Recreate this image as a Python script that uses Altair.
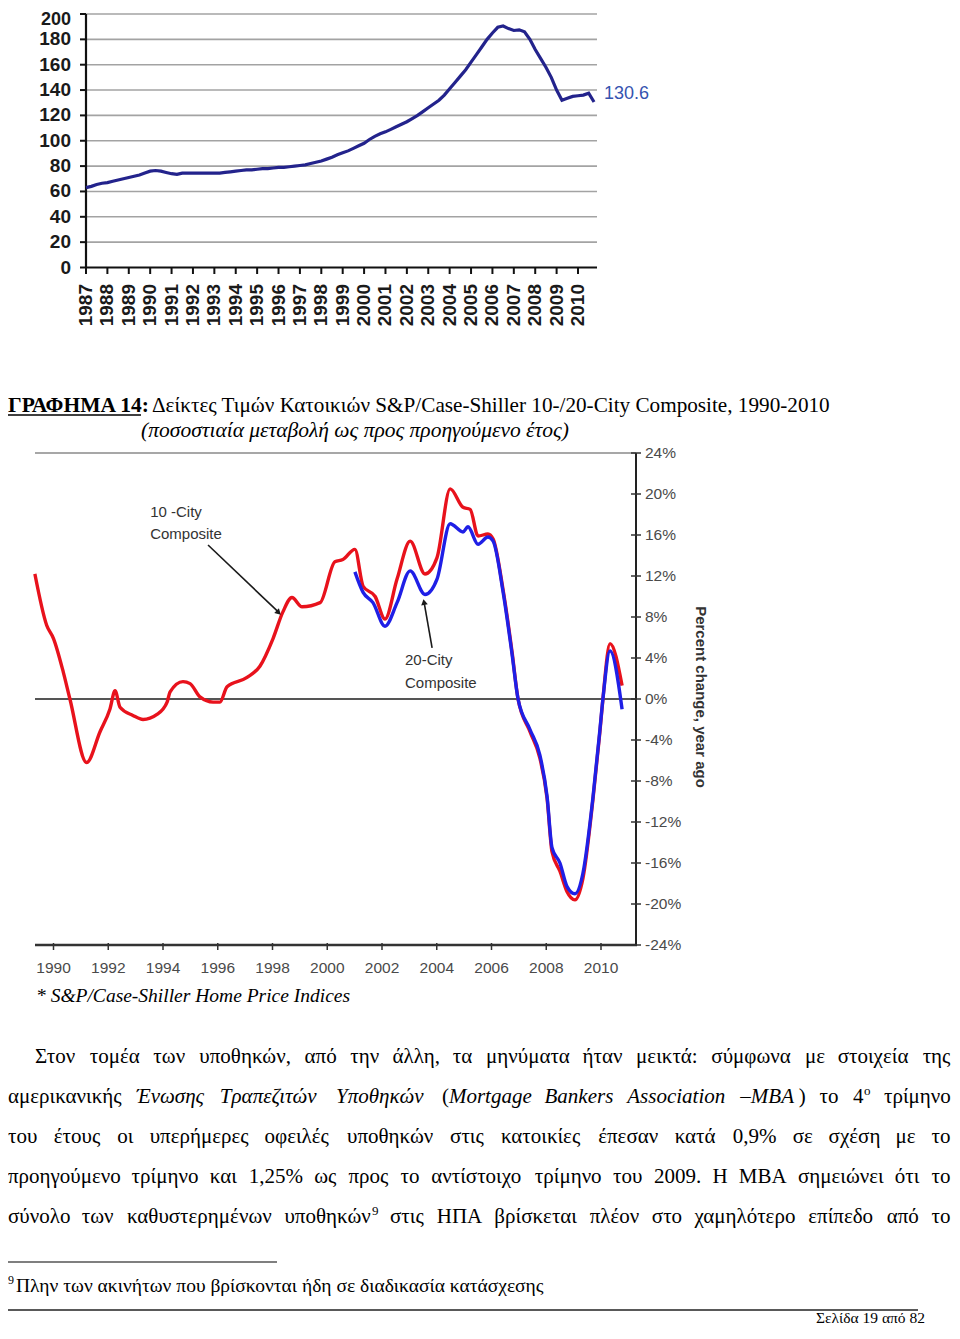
import unicodedata
import altair as alt
import pandas as pd

# ---------------- Chart 1: index level, quarterly 1987Q1-2010Q4 ----------------
idx_years = list(range(1987, 2011))
idx_values = [
    63, 64, 65.5, 66.5,
    67, 68, 69, 70,
    71, 72, 73, 74.5,
    76, 76.5, 76, 75,
    74, 73.5, 74.5, 74.5,
    74.5, 74.5, 74.5, 74.5,
    74.5, 74.5, 75, 75.5,
    76, 76.5, 77, 77,
    77.5, 78, 78, 78.5,
    79, 79, 79.5, 80,
    80.5, 81, 82, 83,
    84, 85.5, 87, 89,
    90.5, 92, 94, 96,
    98, 101, 103.5, 105.5,
    107, 109, 111, 113,
    115, 117.5, 120, 123,
    126, 129, 132, 136,
    141, 146, 151, 156,
    162, 168, 174, 180,
    185, 189.5, 190.5, 188.5,
    187, 187.5, 186, 180,
    172, 165, 158, 150,
    140, 132, 133.5, 135,
    135.5, 136, 137.5, 130.6,
]
idx_ticks = [0, 20, 40, 60, 80, 100, 120, 140, 160, 180, 200]
idx_last_label = "130.6"

# ---------------- Chart 2: % change, year ago ----------------
red_t = [1989.32, 1989.75, 1990.0, 1990.36, 1990.6, 1991.21, 1991.7, 1992.06, 1992.25, 1992.43,
         1992.9, 1993.27, 1993.78, 1994.15, 1994.26, 1994.73, 1994.99, 1995.35, 1995.83, 1996.08,
         1996.34, 1997.07, 1997.54, 1998.02, 1998.38, 1998.71, 1999.08, 1999.74, 2000.28, 2000.57,
         2001.01, 2001.31, 2001.75, 2002.11, 2002.55, 2003.03, 2003.57, 2004.01, 2004.49, 2004.96,
         2005.22, 2005.51, 2005.87, 2006.06, 2006.42, 2006.75, 2006.97, 2007.41, 2007.77, 2008.03,
         2008.21, 2008.5, 2008.76, 2009.05, 2009.34, 2009.71, 2009.96, 2010.07, 2010.33, 2010.77]
red_v = [12.2, 7.2, 5.9, 2.6, 0, -6.2, -3.2, -1.0, 0.8, -0.8,
         -1.6, -2.0, -1.5, -0.3, 0.7, 1.7, 1.5, 0.2, -0.3, -0.3,
         1.2, 2.1, 3.2, 5.9, 8.5, 9.9, 9.0, 9.4, 13.4, 13.6,
         14.6, 11.0, 10.0, 7.8, 11.7, 15.4, 12.2, 13.8, 20.5, 18.7,
         18.5, 15.9, 16.1, 15.6, 10.7, 4.6, 0, -3.2, -5.8, -9.7,
         -14.9, -16.8, -18.8, -19.6, -17.5, -9.7, -3.2, 0, 5.4, 1.3]
blue_t = [2001.01, 2001.31, 2001.67, 2002.11, 2002.55, 2003.03, 2003.57, 2004.01, 2004.49, 2004.96,
          2005.14, 2005.51, 2005.87, 2006.06, 2006.42, 2006.75, 2006.97, 2007.41, 2007.77, 2008.03,
          2008.21, 2008.5, 2008.76, 2009.05, 2009.34, 2009.71, 2009.96, 2010.07, 2010.33, 2010.77]
blue_v = [12.4, 10.4, 9.4, 7.1, 9.4, 12.5, 10.2, 11.7, 17.1, 16.3,
          16.8, 15.1, 15.8, 15.4, 10.5, 4.4, 0, -3.0, -5.5, -9.5,
          -14.5, -16.0, -18.3, -19.0, -17.0, -9.5, -3.0, 0, 4.7, -1.0]
pct_ticks = [24, 20, 16, 12, 8, 4, 0, -4, -8, -12, -16, -20, -24]
year_ticks2 = [1990, 1992, 1994, 1996, 1998, 2000, 2002, 2004, 2006, 2008, 2010]

SERIF = "Liberation Serif"
SANS = "Liberation Sans"
# whole page canvas (kept so that body margin + canvas fit the 960x1339 window)
W, H = 944, 1319

# ---------------- Chart 1 layers ----------------
X1 = alt.Scale(domain=[1987, 2010], range=[78, 570])
Y1 = alt.Scale(domain=[0, 200], range=[259.5, 6])

q_t = [y + q / 4 for y in idx_years for q in range(4)]
df_idx = pd.DataFrame({"t": q_t, "v": idx_values})
df_yt = pd.DataFrame({"v": idx_ticks})
df_years1 = pd.DataFrame({"yr": idx_years, "lab": [str(y) for y in idx_years]})
df_last = pd.DataFrame({"t": [q_t[-1]], "v": [idx_values[-1]], "lab": [idx_last_label]})
one = pd.DataFrame({"a": [0]})

c1_grid = alt.Chart(df_yt[df_yt.v > 0]).mark_rule(color="#a3a3a3", strokeWidth=1.6).encode(
    y=alt.Y("v:Q", scale=Y1, axis=None), x=alt.value(78), x2=alt.value(589))
c1_yaxis = alt.Chart(one).mark_rule(color="#111", strokeWidth=2.2).encode(
    x=alt.value(78), y=alt.value(6), y2=alt.value(260))
c1_xaxis = alt.Chart(one).mark_rule(color="#111", strokeWidth=2.2).encode(
    x=alt.value(77), x2=alt.value(589), y=alt.value(259.5))
c1_yticks = alt.Chart(df_yt).mark_rule(color="#111", strokeWidth=2).encode(
    y=alt.Y("v:Q", scale=Y1, axis=None), x=alt.value(72), x2=alt.value(78))
ylab_style = dict(align="right", baseline="middle", font=SANS, fontWeight="bold", color="#1a1a1a")
c1_ylabels = alt.Chart(df_yt[df_yt.v < 200]).mark_text(fontSize=19, **ylab_style).encode(
    y=alt.Y("v:Q", scale=Y1, axis=None), x=alt.value(63), text="v:Q")
c1_ylabel_top = alt.Chart(df_yt[df_yt.v == 200]).mark_text(fontSize=18, dy=5.5, **ylab_style).encode(
    y=alt.Y("v:Q", scale=Y1, axis=None), x=alt.value(63), text="v:Q")
c1_xticks = alt.Chart(df_years1).mark_rule(color="#111", strokeWidth=2).encode(
    x=alt.X("yr:Q", scale=X1, axis=None), y=alt.value(259.5), y2=alt.value(266))
c1_xlabels = alt.Chart(df_years1).mark_text(align="right", baseline="middle", angle=270, font=SANS,
                                            fontWeight="bold", fontSize=19, color="#1a1a1a").encode(
    x=alt.X("yr:Q", scale=X1, axis=None), y=alt.value(276), text="lab:N")
c1_line = alt.Chart(df_idx).mark_line(color="#23238c", strokeWidth=3.2).encode(
    x=alt.X("t:Q", scale=X1, axis=None), y=alt.Y("v:Q", scale=Y1, axis=None))
c1_last = alt.Chart(df_last).mark_text(align="left", baseline="middle", dx=10, dy=-8, font=SANS,
                                       fontSize=18, color="#3553b0").encode(
    x=alt.X("t:Q", scale=X1, axis=None), y=alt.Y("v:Q", scale=Y1, axis=None), text="lab:N")

chart1 = alt.layer(c1_grid, c1_yaxis, c1_xaxis, c1_yticks, c1_ylabels, c1_ylabel_top, c1_xticks,
                   c1_xlabels, c1_line, c1_last)

# ---------------- Chart 2 layers ----------------
X2 = alt.Scale(domain=[1990, 2010], range=[45.5, 593])
Y2 = alt.Scale(domain=[-24, 24], range=[937, 445])

df_red = pd.DataFrame({"t": red_t, "v": red_v})
df_blue = pd.DataFrame({"t": blue_t, "v": blue_v})
df_pct = pd.DataFrame({"v": pct_ticks, "lab": [f"{v}%" for v in pct_ticks]})
df_yr2 = pd.DataFrame({"yr": year_ticks2, "lab": [str(y) for y in year_ticks2]})


def xq(f):
    return alt.X(f, scale=X2, axis=None)


def yq(f):
    return alt.Y(f, scale=Y2, axis=None)


c2_top = alt.Chart(one).mark_rule(color="#8a8a8a", strokeWidth=1.6).encode(
    y=alt.YDatum(24, scale=Y2, axis=None), x=alt.value(27), x2=alt.value(628))
c2_zero = alt.Chart(one).mark_rule(color="#555555", strokeWidth=2).encode(
    y=alt.YDatum(0, scale=Y2, axis=None), x=alt.value(27), x2=alt.value(628))
c2_bottom = alt.Chart(one).mark_rule(color="#333333", strokeWidth=2.4).encode(
    y=alt.YDatum(-24, scale=Y2, axis=None), x=alt.value(27), x2=alt.value(629))
c2_raxis = alt.Chart(one).mark_rule(color="#222222", strokeWidth=2).encode(
    x=alt.value(628), y=alt.value(445), y2=alt.value(938))
c2_rticks = alt.Chart(df_pct).mark_rule(color="#333333", strokeWidth=1.5).encode(
    y=yq("v:Q"), x=alt.value(623), x2=alt.value(633))
c2_rlabels = alt.Chart(df_pct).mark_text(align="left", baseline="middle", font=SANS, fontSize=15.5,
                                         color="#4a4a4a").encode(
    y=yq("v:Q"), x=alt.value(637), text="lab:N")
c2_xticks = alt.Chart(df_yr2).mark_rule(color="#333333", strokeWidth=1.5).encode(
    x=xq("yr:Q"), y=alt.value(935), y2=alt.value(942))
c2_xlabels = alt.Chart(df_yr2).mark_text(align="center", baseline="middle", font=SANS, fontSize=15.5,
                                         color="#4a4a4a").encode(
    x=xq("yr:Q"), y=alt.value(960), text="lab:N")
c2_title = alt.Chart(one).mark_text(align="center", baseline="middle", angle=90, font=SANS,
                                    fontSize=15, fontWeight="bold", color="#333333").encode(
    x=alt.value(693), y=alt.value(689), text=alt.value("Percent change, year ago"))
c2_red = alt.Chart(df_red).mark_line(color="#e8121c", strokeWidth=3.4, interpolate="monotone").encode(
    x=xq("t:Q"), y=yq("v:Q"))
c2_blue = alt.Chart(df_blue).mark_line(color="#1f1fe6", strokeWidth=3.4, interpolate="monotone").encode(
    x=xq("t:Q"), y=yq("v:Q"))

ann_style = dict(align="left", baseline="middle", font=SANS, fontSize=15, color="#333333")
c2_ann10a = alt.Chart(one).mark_text(**ann_style).encode(
    x=alt.XDatum(1993.53, scale=X2, axis=None), y=alt.YDatum(18.2, scale=Y2, axis=None),
    text=alt.value("10 -City"))
c2_ann10b = alt.Chart(one).mark_text(**ann_style).encode(
    x=alt.XDatum(1993.53, scale=X2, axis=None), y=alt.YDatum(16.1, scale=Y2, axis=None),
    text=alt.value("Composite"))
c2_arr10 = alt.Chart(one).mark_rule(color="#1a1a1a", strokeWidth=1.6).encode(
    x=alt.XDatum(1995.645, scale=X2, axis=None), y=alt.YDatum(15.02, scale=Y2, axis=None),
    x2=alt.datum(1998.25), y2=alt.datum(8.4))
c2_head10 = alt.Chart(one).mark_point(shape="triangle", filled=True, size=45, angle=134,
                                      color="#1a1a1a", opacity=1).encode(
    x=alt.XDatum(1998.2, scale=X2, axis=None), y=alt.YDatum(8.49, scale=Y2, axis=None))
c2_ann20a = alt.Chart(one).mark_text(**ann_style).encode(
    x=alt.XDatum(2002.84, scale=X2, axis=None), y=alt.YDatum(3.8, scale=Y2, axis=None),
    text=alt.value("20-City"))
c2_ann20b = alt.Chart(one).mark_text(**ann_style).encode(
    x=alt.XDatum(2002.84, scale=X2, axis=None), y=alt.YDatum(1.56, scale=Y2, axis=None),
    text=alt.value("Composite"))
c2_arr20 = alt.Chart(one).mark_rule(color="#1a1a1a", strokeWidth=1.6).encode(
    x=alt.XDatum(2003.83, scale=X2, axis=None), y=alt.YDatum(4.98, scale=Y2, axis=None),
    x2=alt.datum(2003.54), y2=alt.datum(9.4))
c2_head20 = alt.Chart(one).mark_point(shape="triangle", filled=True, size=45, angle=350,
                                      color="#1a1a1a", opacity=1).encode(
    x=alt.XDatum(2003.54, scale=X2, axis=None), y=alt.YDatum(9.37, scale=Y2, axis=None))

chart2 = alt.layer(c2_top, c2_zero, c2_bottom, c2_raxis, c2_rticks, c2_rlabels, c2_xticks,
                   c2_xlabels, c2_title, c2_red, c2_blue, c2_ann10a, c2_ann10b, c2_arr10,
                   c2_head10, c2_ann20a, c2_ann20b, c2_arr20, c2_head20)


# ---------------- page text ----------------
def PX(x):  # page x -> canvas x
    return min(W - 1.0, max(0.0, x - 8))


def PY(y):
    return y - 8


def text_at(s, x, y, size, font=SERIF, style="normal", weight="normal", align="left",
            color="black", baseline="alphabetic"):
    return alt.Chart(one).mark_text(align=align, baseline=baseline, fontSize=size, font=font,
                                    fontStyle=style, fontWeight=weight, color=color).encode(
        x=alt.value(x), y=alt.value(y), text=alt.value(s))


def hrule(x1, x2, y, width=1.2, color="black"):
    return alt.Chart(one).mark_rule(color=color, strokeWidth=width).encode(
        x=alt.value(x1), x2=alt.value(x2), y=alt.value(y))


# approximate advance widths (em) of a Times-metric serif font, used to justify the paragraph
LAT = {'a': .444, 'b': .5, 'c': .444, 'd': .5, 'e': .444, 'f': .333, 'g': .5, 'h': .5, 'i': .278,
       'j': .278, 'k': .5, 'l': .278, 'm': .778, 'n': .5, 'o': .5, 'p': .5, 'q': .5, 'r': .333,
       's': .389, 't': .278, 'u': .5, 'v': .5, 'w': .722, 'x': .5, 'y': .5, 'z': .444,
       'A': .722, 'B': .667, 'M': .889, 'H': .722, ',': .25, '.': .25, ':': .278, '%': .833,
       '(': .333, ')': .333, '–': .5, ' ': .25}
GRK = {'α': .535, 'β': .5, 'γ': .45, 'δ': .5, 'ε': .42, 'ζ': .43, 'η': .5, 'θ': .5, 'ι': .28,
       'κ': .5, 'λ': .48, 'μ': .52, 'ν': .46, 'ξ': .44, 'ο': .5, 'π': .52, 'ρ': .5, 'σ': .52,
       'ς': .42, 'τ': .43, 'υ': .48, 'φ': .64, 'χ': .46, 'ψ': .67, 'ω': .68,
       'Α': .722, 'Ε': .611, 'Η': .722, 'Π': .722, 'Σ': .6, 'Τ': .611, 'Υ': .722}


def est_width(s, size):
    w = 0.0
    for ch in s:
        if ch.isdigit():
            w += .5
            continue
        base = unicodedata.normalize("NFD", ch)[0]
        extra = .12 if (base != ch and base.isupper()) else 0
        w += LAT.get(base, GRK.get(base, .5)) + extra
    return w * size


PARA_SIZE = 21
SUP_SIZE = 13
texts = []

# Title lines
texts.append(text_at("ΓΡΑΦΗΜΑ 14:", PX(0), PY(412), 21.5, weight="bold"))
texts.append(hrule(PX(0), PX(0) + 133, PY(415), 1.4))
texts.append(text_at("Δείκτες Τιμών Κατοικιών S&P/Case-Shiller 10-/20-City Composite, 1990-2010",
                     PX(152), PY(412), 21.2))
texts.append(text_at("(ποσοστιαία μεταβολή ως προς προηγούμενο έτος)", PX(355), PY(437),
                     21.5, style="italic", align="center"))
texts.append(text_at("* S&P/Case-Shiller Home Price Indices", PX(36), PY(1002), 19.5,
                     style="italic"))

# Paragraph, justified: each word is a list of runs (text, style) ; n normal, i italic, s sup
N, I, S = "n", "i", "s"
para = [
    (1063, 35, [[("Στον", N)], [("τομέα", N)], [("των", N)], [("υποθηκών,", N)], [("από", N)],
                [("την", N)], [("άλλη,", N)], [("τα", N)], [("μηνύματα", N)], [("ήταν", N)],
                [("μεικτά:", N)], [("σύμφωνα", N)], [("με", N)], [("στοιχεία", N)], [("της", N)]]),
    (1103, 0, [[("αμερικανικής", N)], [("Ένωσης", I)], [("Τραπεζιτών", I)], [("Υποθηκών", I)],
               [("(", N), ("Mortgage", I)], [("Bankers", I)], [("Association", I)],
               [("–MBA", I), (")", N)], [("το", N)], [("4", N), ("ο", S)], [("τρίμηνο", N)]]),
    (1143, 0, [[("του", N)], [("έτους", N)], [("οι", N)], [("υπερήμερες", N)], [("οφειλές", N)],
               [("υποθηκών", N)], [("στις", N)], [("κατοικίες", N)], [("έπεσαν", N)], [("κατά", N)],
               [("0,9%", N)], [("σε", N)], [("σχέση", N)], [("με", N)], [("το", N)]]),
    (1183, 0, [[("προηγούμενο", N)], [("τρίμηνο", N)], [("και", N)], [("1,25%", N)], [("ως", N)],
               [("προς", N)], [("το", N)], [("αντίστοιχο", N)], [("τρίμηνο", N)], [("του", N)],
               [("2009.", N)], [("Η", N)], [("MBA", N)], [("σημειώνει", N)], [("ότι", N)],
               [("το", N)]]),
    (1223, 0, [[("σύνολο", N)], [("των", N)], [("καθυστερημένων", N)],
               [("υποθηκών", N), ("9", S)], [("στις", N)], [("ΗΠΑ", N)], [("βρίσκεται", N)],
               [("πλέον", N)], [("στο", N)], [("χαμηλότερο", N)], [("επίπεδο", N)], [("από", N)],
               [("το", N)]]),
]
LINE_END = W - 1


def run_w(t, st):
    return est_width(t, SUP_SIZE if st == S else PARA_SIZE)


for base, start, words in para:
    x0 = PX(start)
    widths = [sum(run_w(t, st) for t, st in wd) for wd in words]
    gap = (LINE_END - x0 - sum(widths)) / (len(words) - 1)
    x = x0
    for k, wd in enumerate(words):
        if k == len(words) - 1:
            x = LINE_END - widths[k]
        rx = x
        for t, st in wd:
            if st == S:
                texts.append(text_at(t, rx + 0.5, PY(base) - 8, SUP_SIZE))
            else:
                texts.append(text_at(t, rx, PY(base), PARA_SIZE,
                                     style="italic" if st == I else "normal"))
            rx += run_w(t, st)
        x += widths[k] + gap

# footnote and page footer
texts.append(hrule(PX(0), PX(277), PY(1262), 1.2))
texts.append(text_at("9", 0, PY(1284), 12))
texts.append(text_at("Πλην των ακινήτων που βρίσκονται ήδη σε διαδικασία κατάσχεσης", 8,
                     PY(1292), 19.5))
texts.append(hrule(PX(5), PX(918), 1302, 1.6, "#222222"))
texts.append(text_at("Σελίδα 19 από 82", PX(925), H - 4.5, 15.5, align="right"))

chart = alt.layer(chart1, chart2, *texts).resolve_scale(
    x="independent", y="independent"
).properties(
    width=W, height=H, autosize=alt.AutoSizeParams(type="none"), padding=0
).configure(background="white", view=alt.ViewConfig(stroke=None, strokeWidth=0))

chart.save("out.html", embed_options={"renderer": "svg", "actions": False})
